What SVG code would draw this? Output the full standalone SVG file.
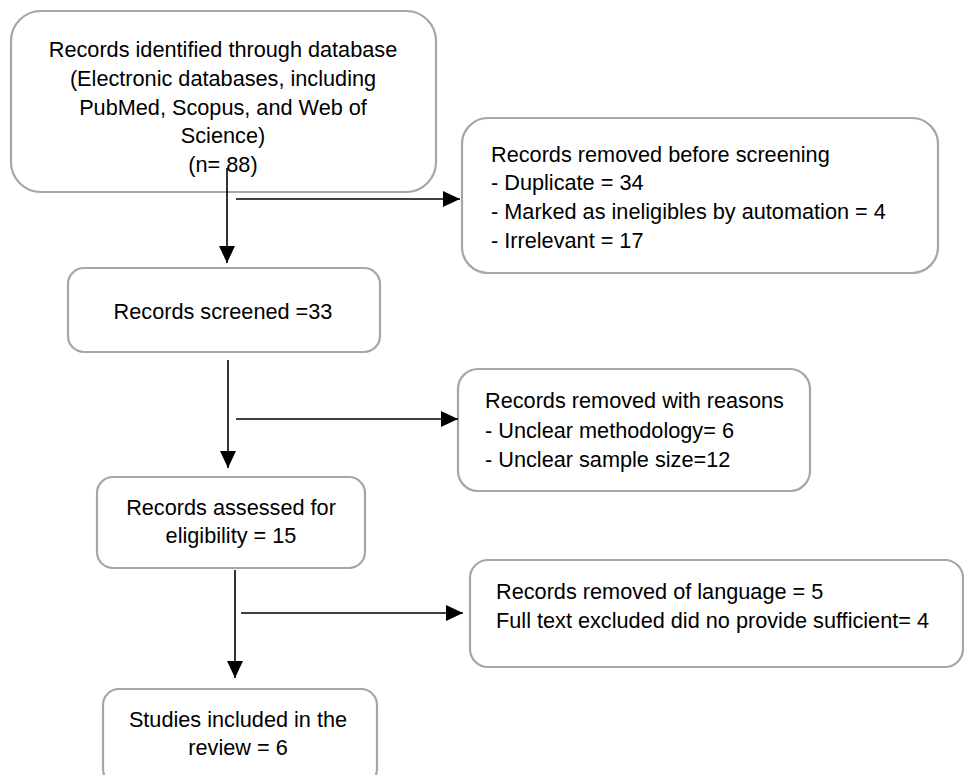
<svg xmlns="http://www.w3.org/2000/svg" width="964" height="775" viewBox="0 0 964 775">
<defs>
<marker id="ah" markerUnits="userSpaceOnUse" markerWidth="18" markerHeight="18" refX="17" refY="8" orient="auto">
<path d="M0,0 L17,8 L0,16 Z" fill="#000"/>
</marker>
<style>
.box{fill:#fff;stroke:#a6a6a6;stroke-width:2.2}
.t{font-family:"Liberation Sans",Arial,sans-serif;font-size:21.7px;fill:#000}
.c{text-anchor:middle}
.con line{stroke:#000;stroke-width:1.6;fill:none}
</style>
</defs>
<rect width="964" height="775" fill="#fff"/>
<g id="identified">
<rect class="box" x="11" y="11" width="425" height="181" rx="30"/>
<text class="t c" x="223" y="57">Records identified through database</text>
<text class="t c" x="223" y="86">(Electronic databases, including</text>
<text class="t c" x="223" y="115">PubMed, Scopus, and Web of</text>
<text class="t c" x="223" y="143">Science)</text>
<text class="t c" x="223" y="172">(n= 88)</text>
</g>
<g id="removed-before">
<rect class="box" x="462" y="118" width="476" height="155" rx="26"/>
<text class="t" x="491" y="162">Records removed before screening</text>
<text class="t" x="491" y="190">- Duplicate = 34</text>
<text class="t" x="491" y="219">- Marked as ineligibles by automation = 4</text>
<text class="t" x="491" y="248">- Irrelevant = 17</text>
</g>
<g id="screened">
<rect class="box" x="68" y="268" width="312" height="84" rx="16"/>
<text class="t c" x="223" y="319">Records screened =33</text>
</g>
<g id="removed-reasons">
<rect class="box" x="458" y="369" width="352" height="122" rx="20"/>
<text class="t" x="485" y="408">Records removed with reasons</text>
<text class="t" x="485" y="438">- Unclear methodology= 6</text>
<text class="t" x="485" y="467">- Unclear sample size=12</text>
</g>
<g id="assessed">
<rect class="box" x="97" y="477" width="268" height="91" rx="16"/>
<text class="t c" x="231" y="515">Records assessed for</text>
<text class="t c" x="231" y="543">eligibility = 15</text>
</g>
<g id="removed-language">
<rect class="box" x="470" y="560" width="493" height="107" rx="18"/>
<text class="t" x="496" y="599">Records removed of language = 5</text>
<text class="t" x="496" y="628">Full text excluded did no provide sufficient= 4</text>
</g>
<g id="included">
<rect class="box" x="103" y="689" width="274" height="96" rx="16"/>
<text class="t c" x="238" y="727">Studies included in the</text>
<text class="t c" x="238" y="755">review = 6</text>
</g>
<g id="connectors" class="con">
<line x1="227" y1="168" x2="227" y2="263" marker-end="url(#ah)"/>
<line x1="236" y1="199" x2="460" y2="199" marker-end="url(#ah)"/>
<line x1="228" y1="360" x2="228" y2="468" marker-end="url(#ah)"/>
<line x1="236" y1="419" x2="458" y2="419" marker-end="url(#ah)"/>
<line x1="235" y1="570" x2="235" y2="678" marker-end="url(#ah)"/>
<line x1="241" y1="613" x2="463" y2="613" marker-end="url(#ah)"/>
</g>
</svg>
